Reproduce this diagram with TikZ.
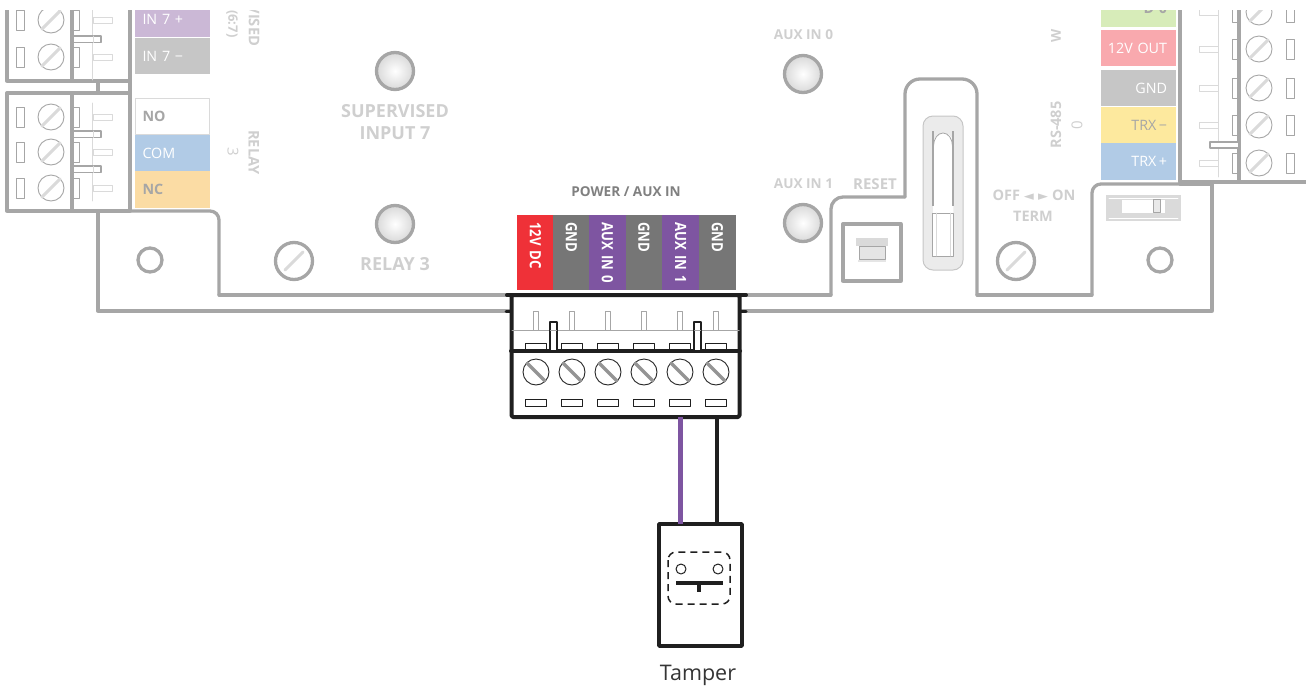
\documentclass[tikz,border=0pt]{standalone}
\usepackage{fontspec}
\setmainfont{Open Sans}
\newfontfamily\symfont{DejaVu Sans}
\newfontfamily\narrowfont[FakeStretch=0.85]{Open Sans}
\definecolor{boardgray}{HTML}{A6A6A6}
\definecolor{textgray}{HTML}{CFCFCF}
\definecolor{pingray}{HTML}{DADADA}
\definecolor{inkblack}{HTML}{1F1F1F}
\definecolor{redpin}{HTML}{EF3138}
\definecolor{graypin}{HTML}{767676}
\definecolor{purplepin}{HTML}{7E55A1}
\definecolor{lilac}{HTML}{CBB8D6}
\definecolor{silver}{HTML}{C6C6C6}
\definecolor{skyblue}{HTML}{B1CBE6}
\definecolor{peach}{HTML}{FBDCA4}
\definecolor{mint}{HTML}{D7ECB9}
\definecolor{rose}{HTML}{F9A9AE}
\definecolor{butter}{HTML}{FDE99E}
\tikzset{
  board/.style={draw=boardgray,line width=3.3pt},
  thinpart/.style={draw=boardgray,line width=.9pt},
  softpin/.style={draw=pingray,line width=1pt},
  slash/.style={draw=pingray,line width=3pt},
  dimtext/.style={text=textgray,font=\bfseries\fontsize{13.6}{15}\selectfont},
  sidetag/.style={inner sep=0pt,outer sep=0pt,minimum height=36.5pt,text width=75pt,font=\fontsize{14.3}{15}\selectfont},
  toptag/.style={rotate=-90,inner sep=0pt,outer sep=0pt,minimum height=37pt,text width=75pt,align=left,text=white,font=\narrowfont\bfseries\fontsize{15.5}{14}\selectfont},
  inkpart/.style={draw=inkblack,line width=1pt},
  wirepart/.style={line width=4pt,line cap=butt},
}
\begin{document}
\begin{tikzpicture}[x=1pt,y=-1pt,line join=round,line cap=round]
	\useasboundingbox (0,0) rectangle (1306,691);
	\clip (0,10) rectangle (1306,691);
	% board outline
	\draw[board,rounded corners=9pt] (130,211)--(219,211)--(219,295);
	\draw[board] (219,295)--(511,295);
	\draw[board] (98,211)--(98,311)--(511,311);
	\draw[board] (98,81)--(98,93);
	\draw[board] (740,295)--(831,295);
	\draw[board,rounded corners=12pt] (831,295)--(831,197)--(905,197);
	\draw[board,rounded corners=15pt] (905,197)--(905,79)--(977,79)--(977,295);
	\draw[board] (977,295)--(1092,295);
	\draw[board,rounded corners=9pt] (1092,295)--(1092,184)--(1180,184);
	\draw[board] (1180,184)--(1212,184)--(1212,311)--(740,311);
	% side connectors
	\draw[board] (130,5)--(130,211)--(7,211)--(7,93)--(130,93);
	\draw[board] (7,5)--(7,81)--(130,81);
	\draw[board] (72,5)--(72,81) (72,93)--(72,211);
	\draw[board] (1180,5)--(1180,182)--(1310,182);
	\draw[board] (1239,5)--(1239,182);
	\draw[softpin,line width=.8pt] (92,5)--(92,80) (92,103)--(92,201) (1218,5)--(1218,177);
	\foreach \y in {20,57,117,152,188} {
		\draw[thinpart] (16,\y-10) rectangle (24,\y+10);
		\draw[thinpart] (73,\y-10) rectangle (79,\y+10);
		\draw[softpin] (93,\y-3) rectangle (112,\y+3);
		\draw[thinpart,fill=white] (51,\y) circle (13pt);
		\draw[slash] (42,\y+9)--(60,\y-9);
	}
	\foreach \y in {12,49,88,125,163} {
		\draw[thinpart] (1286,\y-10) rectangle (1294,\y+10);
		\draw[thinpart] (1232,\y-10) rectangle (1238,\y+10);
		\draw[softpin] (1199,\y-3) rectangle (1218,\y+3);
		\draw[thinpart,fill=white] (1259,\y) circle (13pt);
		\draw[slash] (1250,\y+9)--(1268,\y-9);
	}
	\foreach \y in {36,131,166} {
		\draw[thinpart,fill=white,line width=1.2pt] (73,\y) rectangle (101,\y+6.5);
		\draw[softpin] (93,\y)--(93,\y+6.5);
	}
	\draw[thinpart,fill=white,line width=1.2pt] (1239,142) rectangle (1210,148);
	% side tags
	\foreach \y/\c/\t/\k in {19/lilac/{IN 7\,\,+}/white,56/silver/{IN 7\,\,\textminus}/white,116.5/white/{\bfseries NO}/boardgray,153/skyblue/COM/white,189.5/peach/{\bfseries NC}/boardgray}
		\node[sidetag,fill=\c,text=\k,align=left] (tag\y) at (172,\y) {\hspace*{8pt}\raisebox{-.5pt}{\t}};
	\draw[pingray,line width=1pt] (135,98) rectangle (209,134);
	\foreach \y/\c/\t/\k in {8.5/mint/{\bfseries D 0}/boardgray,48/rose/12V OUT/white,88/silver/GND/white,125/butter/TRX\,\textminus/boardgray,161.5/skyblue/TRX\,+/white}
		\node[sidetag,fill=\c,text=\k,align=right] (tag\y) at (1138.5,\y) {\raisebox{-.5pt}{\t}\hspace*{9pt}};
	% dim labels
	\node[dimtext,rotate=-90,anchor=west,font=\bfseries\fontsize{14.7}{16}\selectfont] (vised) at (254,1) {VISED};
	\node[dimtext,rotate=-90,font=\bfseries\fontsize{13}{15}\selectfont,anchor=east] (range) at (232,41) {(6:7)};
	\node[dimtext,rotate=-90,font=\bfseries\fontsize{14.7}{16}\selectfont] (relayname) at (254,152.5) {RELAY};
	\node[dimtext,rotate=-90,font=\fontsize{15}{17}\selectfont] (relaynum) at (233,152) {3};
	\node[dimtext,font=\bfseries\fontsize{18}{20}\selectfont] (superv) at (395,111) {SUPERVISED};
	\node[dimtext,font=\bfseries\fontsize{18}{20}\selectfont] (input) at (395,133.5) {INPUT 7};
	\node[dimtext,font=\bfseries\fontsize{18}{20}\selectfont] (relaythree) at (395,264) {RELAY 3};
	\node[dimtext] (auxzero) at (803.5,35) {AUX IN 0};
	\node[dimtext] (auxone) at (803.5,184) {AUX IN 1};
	\node[dimtext,font=\bfseries\fontsize{15}{17}\selectfont] (reset) at (875,184) {RESET};
	\node[dimtext,font=\bfseries\fontsize{14.5}{17}\selectfont] (offon) at (1034,195) {OFF {\symfont\fontsize{13}{12}\selectfont ◄\,\,►} ON};
	\node[dimtext,font=\bfseries\fontsize{14.5}{17}\selectfont] (termname) at (1033,216) {TERM};
	\node[dimtext,rotate=90,font=\bfseries\fontsize{14.5}{16}\selectfont] (rsname) at (1056,125) {RS-485};
	\node[dimtext,rotate=90,font=\fontsize{15}{17}\selectfont] (rsnum) at (1077,125) {0};
	\node[dimtext,rotate=90,anchor=east] (wname) at (1056,26) {W};
	% round parts
	\foreach \i in {(395,71),(395,224),(803,74),(803,223)} {
		\shade[inner color=white,outer color=pingray] \i circle (18pt);
		\draw[draw=boardgray,line width=3.3pt] \i circle (18.5pt);
	}
	\foreach \i in {(150,260),(1160,260)} \draw[board] \i circle (12pt);
	\foreach \i in {294,1016} {
		\draw[board] (\i,261) circle (18.5pt);
		\draw[slash] (\i-9,270)--(\i+9,252);
	}
	% reset button
	\draw[board] (843,224) rectangle (901,281);
	\fill[pingray] (856,238) rectangle (888,246);
	\draw[thinpart,fill=pingray!70] (859,246) rectangle (885,259);
	\fill[pingray!70] (858,260) rectangle (886,262);
	% slot
	\draw[draw=silver,fill=pingray!55,line width=1pt,rounded corners=10pt] (923,116) rectangle (963,270);
	\fill[white] (933,256)--(933,145) arc (180:0:10.5pt and 12pt)--(953,256)--cycle;
	\draw[boardgray,line width=1.3pt,line cap=butt] (933,131)--(933,206) (953,131)--(953,206);
	\draw[draw=boardgray,line width=.8pt] (933.5,146) arc (180:0:9.5pt and 13pt);
	\draw[thinpart,line width=.8pt] (932,213) rectangle (953,256);
	\draw[draw=pingray,line width=.8pt] (936,213)--(936,256) (950,213)--(950,256);
	% term switch
	\fill[pingray] (1106,195) rectangle (1181,221);
	\draw[white,line width=.8pt] (1109,198)--(1178,198) (1109,218)--(1178,218);
	\fill[white] (1122,200) rectangle (1165,212.5);
	\draw[draw=boardgray,fill=pingray!60,line width=.8pt] (1153,199.5) rectangle (1160,212.5);
	% power connector
	\node[font=\bfseries\fontsize{13.6}{15}\selectfont,text=black!50] (powername) at (626,192) {POWER / AUX IN};
	\foreach \x/\c/\t in {535.5/redpin/12V DC,571.5/graypin/GND,607.5/purplepin/AUX IN 0,644/graypin/GND,680.5/purplepin/AUX IN 1,717.5/graypin/GND}
		\node[toptag,fill=\c] (pin\x) at (\x,252.5) {\hspace*{7pt}\t};
	\node[draw=inkblack,line width=4pt,minimum width=228pt,minimum height=122pt,inner sep=0pt,outer sep=0pt,rounded corners=1.5pt] (block) at (625.5,356) {};
	\draw[inkblack,line width=4pt] (507,295)--(746,295) (511,351)--(740,351);
	\draw[inkblack,line width=3pt] (506,311)--(511,311) (740,311)--(746,311);
	\draw[boardgray,line width=1pt] (512,330)--(739,330);
	\foreach \x in {536,572,608,644,680,716} {
		\draw[draw=boardgray,line width=.9pt] (\x-2.5,311) rectangle (\x+2.5,330);
		\draw[inkpart] (\x-10.5,343.5) rectangle (\x+10.5,350);
		\draw[inkpart] (\x-10.5,399) rectangle (\x+10.5,406.5);
		\draw[draw=black!85,fill=white,line width=.9pt] (\x,372) circle (13pt);
		\draw[draw=black!42,line width=3.4pt,line cap=butt] (\x-9.5,362.5)--(\x+9.5,381.5);
	}
	\foreach \x in {553.5,697.5} {
		\draw[inkpart,line width=1.2pt,fill=white] (\x-3.5,322) rectangle (\x+3.5,351);
		\draw[boardgray,line width=1pt] (\x-3,330)--(\x+3,330);
	}
	% tamper switch
	\node[draw=inkblack,line width=3.5pt,minimum width=83pt,minimum height=122pt,inner sep=0pt,outer sep=0pt] (tamper) at (700.5,585) {};
	\draw[wirepart,line width=5pt,draw=purplepin] (block.south -| 680,0)--(tamper.north -| 680,0);
	\draw[wirepart,draw=inkblack] (block.south -| 717,0)--(tamper.north -| 717,0);
	\draw[inkblack,line width=1.5pt,dash pattern=on 7pt off 5pt,line cap=butt,rounded corners=8pt] (668,552) rectangle (730,604);
	\foreach \i in {(681,569),(718,569)} \draw[inkblack,line width=1pt] \i circle (5pt);
	\draw[inkblack,line width=4pt,line cap=butt] (676,583)--(723,583);
	\draw[inkblack,line width=4pt,line cap=butt] (699,583)--(699,592);
	\node[text=inkblack!90,font=\fontsize{21.5}{24}\selectfont] (tampername) at (698,675) {Tamper};
\end{tikzpicture}
\end{document}
